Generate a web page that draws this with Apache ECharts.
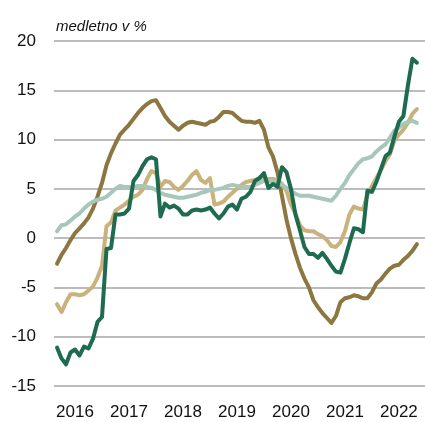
<!DOCTYPE html>
<html>
<head>
<meta charset="utf-8">
<script src="https://cdn.jsdelivr.net/npm/echarts@6/dist/echarts.min.js"></script>
<style>
  html, body { margin: 0; padding: 0; background: #fff; }
  #chart { width: 425px; height: 422px; }
</style>
</head>
<body>
<div id="chart"></div>
<script>
// monthly data, Sep 2015 .. May 2022 (index 0 = 2015-09)
const yearTicks = [4, 16, 28, 40, 52, 64, 76];
const yearLabels = ['2016', '2017', '2018', '2019', '2020', '2021', '2022'];

const darkGreen = [
  -11.1, -12.2, -12.8, -11.6, -11.3, -11.9, -11.0, -11.2, -10.2, -8.5,
  -8.0, -1.1, -1.0, 2.4, 2.4, 2.5, 3.0, 5.8, 6.4, 7.3,
  8.0, 8.2, 8.0, 2.2, 3.5, 3.1, 3.3, 3.0, 2.4, 2.4,
  2.8, 2.9, 2.8, 2.9, 3.1, 2.5, 2.0, 2.5, 3.2, 3.4,
  2.9, 4.0, 4.2, 4.7, 5.8, 6.1, 6.6, 5.1, 5.5, 5.2,
  7.2, 6.7, 5.0, 2.4, 0.8, -0.9, -1.6, -1.6, -2.0, -1.5,
  -2.1, -2.8, -3.4, -3.5, -2.1, -0.5, 1.0, 0.9, 0.6, 4.8,
  4.7, 5.7, 7.0, 8.3, 8.7, 10.3, 11.8, 12.4, 15.5, 18.2,
  17.8
];
const olive = [
  -2.6, -1.7, -1.0, -0.2, 0.5, 1.0, 1.5, 2.1, 3.0, 4.2,
  5.6, 7.4, 8.6, 9.6, 10.5, 11.0, 11.5, 12.1, 12.7, 13.2,
  13.6, 13.9, 14.0, 13.2, 12.4, 11.8, 11.4, 11.0, 11.4, 11.7,
  11.8, 11.7, 11.6, 11.5, 11.8, 11.9, 12.3, 12.8, 12.8, 12.7,
  12.3, 11.9, 11.8, 11.8, 11.7, 11.9, 11.0, 9.2, 8.3, 6.7,
  4.3, 1.9, 0.0, -1.6, -3.0, -4.1, -5.0, -6.3, -7.0, -7.6,
  -8.1, -8.6, -7.9, -6.5, -6.1, -6.0, -5.8, -5.9, -6.1, -6.1,
  -5.5, -4.6, -4.2, -3.6, -3.1, -2.8, -2.7, -2.2, -1.8, -1.3,
  -0.6
];
const tan = [
  -6.7, -7.5, -6.5, -5.7, -5.7, -5.8, -5.7, -5.3, -4.9, -4.0,
  -2.8, 1.2, 1.6, 2.8, 3.1, 3.4, 3.8, 4.2, 4.4, 4.9,
  6.0, 6.8, 6.6, 5.2, 5.8, 5.7, 5.2, 4.9, 5.3, 5.8,
  6.4, 6.8, 5.9, 5.6, 6.1, 3.4, 3.5, 3.7, 4.2, 4.6,
  5.0, 5.4, 5.7, 5.8, 5.9, 6.0, 6.0, 6.0, 6.0, 5.9,
  5.5, 4.8, 3.4, 2.5, 1.3, 0.8, 0.7, 0.7, 0.4, 0.2,
  -0.2, -0.8, -0.9, -0.4, 0.7, 2.4, 3.2, 3.0, 2.9, 4.4,
  5.3, 6.1, 6.9, 7.8, 8.5, 9.9, 10.5, 11.0, 11.7, 12.6,
  13.1
];
const sage = [
  0.7, 1.3, 1.4, 1.8, 2.2, 2.5, 3.0, 3.4, 3.7, 3.9,
  4.0, 4.2, 4.6, 5.0, 5.3, 5.2, 5.2, 5.2, 5.3, 5.3,
  5.2, 5.1, 4.9, 4.6, 4.4, 4.3, 4.2, 4.1, 4.1, 4.2,
  4.3, 4.4, 4.6, 4.7, 4.9, 4.9, 5.0, 5.1, 5.3, 5.4,
  5.3, 5.2, 5.2, 5.2, 5.4, 5.6, 5.8, 5.8, 5.8, 5.6,
  5.4, 5.1, 4.8, 4.5, 4.3, 4.3, 4.3, 4.2, 4.1, 4.0,
  3.9, 3.8, 4.3, 5.0, 5.6, 6.4, 7.0, 7.6, 8.0, 8.1,
  8.3, 8.8, 9.2, 9.5, 10.2, 10.9, 11.2, 11.6, 11.8, 11.9,
  11.7
];

const toXY = arr => arr.map((v, i) => [i, v]);

function lineSeries(name, data, color) {
  return {
    name: name,
    type: 'line',
    data: toXY(data),
    showSymbol: false,
    symbol: 'none',
    lineStyle: { color: color, width: 4, cap: 'round', join: 'round' },
    animation: false,
  };
}

const chart = echarts.init(document.getElementById('chart'));
chart.setOption({
  animation: false,
  title: {
    text: 'medletno v %',
    left: 51, top: 14,
    textStyle: { fontFamily: 'Liberation Sans', fontSize: 15, fontStyle: 'italic', fontWeight: 'normal', color: '#111' },
  },
  grid: { left: 54, right: 0, top: 41, bottom: 36 },
  xAxis: {
    type: 'value',
    min: -0.67, max: 81.8,
    splitLine: { show: false },
    axisLine: { show: false },
    axisTick: { show: false },
    axisLabel: {
      customValues: yearTicks,
      formatter: v => yearLabels[yearTicks.indexOf(v)] || '',
      margin: 18,
      fontFamily: 'Liberation Sans', fontSize: 17, color: '#111',
    },
  },
  yAxis: {
    type: 'value',
    min: -15, max: 20, interval: 5,
    axisLine: { show: false },
    axisTick: { show: false },
    splitLine: { lineStyle: { color: '#a6a6a6', width: 1.5 } },
    axisLabel: { margin: 18, fontFamily: 'Liberation Sans', fontSize: 17, color: '#111' },
  },
  series: [
    lineSeries('olive', olive, '#8c7741'),
    lineSeries('tan', tan, '#c9b27b'),
    lineSeries('sage', sage, '#a7c7bb'),
    lineSeries('green', darkGreen, '#1e6b4f'),
  ],
});
</script>
</body>
</html>
